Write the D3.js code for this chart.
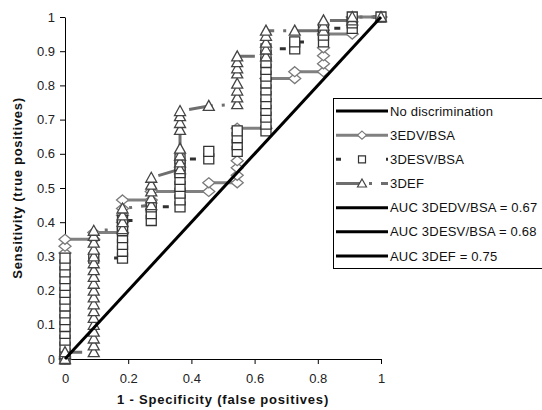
<!DOCTYPE html>
<meta charset="utf-8">
<style>
  body { margin: 0; background: #fff; }
  svg { display: block; font-family: Arial, "Liberation Sans", sans-serif; }
  .axis path, .axis line { stroke: #000; }
  .axis text { font-size: 13px; fill: #222; font-family: Arial, "Liberation Sans", sans-serif; }
  .title { font-size: 13px; font-weight: bold; fill: #111; }
  .legend text { font-size: 13px; fill: #111; letter-spacing: 0.2px; }
</style>
<body>
<script src="https://cdnjs.cloudflare.com/ajax/libs/d3/7.8.5/d3.min.js"></script>
<script>
// tick values / labels
var xTicks = [0, 0.2, 0.4, 0.6, 0.8, 1];
var xTickLabels = ["0", "0.2", "0.4", "0.6", "0.8", "1"];
var yTicks = [0, 0.1, 0.2, 0.3, 0.4, 0.5, 0.6, 0.7, 0.8, 0.9, 1];
var yTickLabels = ["0", "0.1", "0.2", "0.3", "0.4", "0.5", "0.6", "0.7", "0.8", "0.9", "1"];

// ROC points [1 - specificity, sensitivity]
var noDiscrimination = [[0, 0], [1, 1]];

var edvBsa = [[0,0],[0,0.31],[0,0.33],[0,0.35],[0.091,0.35],[0.091,0.37],[0.182,0.37],[0.182,0.40],
  [0.182,0.42],[0.182,0.44],[0.182,0.465],[0.273,0.465],[0.273,0.49],[0.455,0.49],[0.455,0.515],
  [0.545,0.515],[0.545,0.537],[0.545,0.559],[0.545,0.58],[0.545,0.675],[0.636,0.675],[0.636,0.82],
  [0.727,0.82],[0.727,0.84],[0.818,0.84],[0.818,0.863],[0.818,0.887],[0.818,0.91],[0.818,0.95],
  [0.909,0.95],[0.909,1],[1,1]];

var esvBsa = [[0,0],[0,0.015],[0,0.035],[0,0.055],[0,0.075],[0,0.095],[0,0.115],[0,0.135],[0,0.155],
  [0,0.175],[0,0.195],[0,0.215],[0,0.235],[0,0.255],[0,0.275],[0,0.295],[0.091,0.295],[0.182,0.295],
  [0.182,0.315],[0.182,0.335],[0.182,0.355],[0.182,0.375],[0.182,0.39],[0.182,0.405],[0.273,0.405],
  [0.273,0.425],[0.273,0.445],[0.364,0.445],[0.364,0.465],[0.364,0.485],[0.364,0.505],[0.364,0.525],
  [0.364,0.545],[0.364,0.565],[0.364,0.585],[0.455,0.585],[0.455,0.607],[0.545,0.607],[0.545,0.627],
  [0.545,0.647],[0.545,0.667],[0.636,0.667],[0.636,0.687],[0.636,0.707],[0.636,0.727],[0.636,0.747],
  [0.636,0.767],[0.636,0.787],[0.636,0.807],[0.636,0.827],[0.636,0.847],[0.636,0.867],[0.636,0.887],
  [0.636,0.907],[0.727,0.907],[0.727,0.927],[0.818,0.927],[0.818,0.947],[0.818,0.967],[0.909,0.967],
  [0.909,0.983],[0.909,1],[1,1]];

var def = [[0,0],[0,0.02],[0.091,0.02],[0.091,0.04],[0.091,0.06],[0.091,0.08],[0.091,0.10],[0.091,0.12],
  [0.091,0.14],[0.091,0.16],[0.091,0.18],[0.091,0.20],[0.091,0.22],[0.091,0.24],[0.091,0.26],[0.091,0.28],
  [0.091,0.30],[0.091,0.32],[0.091,0.34],[0.091,0.36],[0.091,0.375],[0.182,0.38],[0.182,0.40],[0.182,0.42],
  [0.182,0.44],[0.273,0.45],[0.273,0.47],[0.273,0.49],[0.273,0.51],[0.273,0.53],[0.364,0.555],[0.364,0.575],
  [0.364,0.595],[0.364,0.615],[0.364,0.67],[0.364,0.69],[0.364,0.71],[0.364,0.725],[0.455,0.74],
  [0.545,0.745],[0.545,0.765],[0.545,0.785],[0.545,0.805],[0.545,0.835],[0.545,0.85],[0.545,0.868],
  [0.545,0.885],[0.636,0.885],[0.636,0.905],[0.636,0.925],[0.636,0.945],[0.636,0.96],[0.727,0.96],
  [0.818,0.96],[0.818,0.975],[0.818,0.99],[0.909,0.99],[0.909,1],[1,1]];

var legendLabels = ["No discrimination", "3EDV/BSA", "3DESV/BSA", "3DEF",
  "AUC 3DEDV/BSA = 0.67", "AUC 3DESV/BSA = 0.68", "AUC 3DEF = 0.75"];

var width = 542, height = 410;

var svg = d3.select("body").append("svg")
    .attr("width", width)
    .attr("height", height);

var x = d3.scaleLinear().domain([0, 1]).range([65, 381]);
var y = d3.scaleLinear().domain([0, 1]).range([359, 17]);

// marker shapes
var shapes = {
  diamond: "M0,-5L6,0L0,5L-6,0Z",
  square: "M-5,-5H5V5H-5Z",
  triangle: "M0,-5.5L5.5,4.5H-5.5Z"
};
var smallShapes = {
  diamond: "M0,-4L4.5,0L0,4L-4.5,0Z",
  square: "M-3.5,-3.5H3.5V3.5H-3.5Z",
  triangle: "M0,-4.5L4.5,3.5H-4.5Z"
};

var series = [
  { data: edvBsa, shape: "diamond", line: "#808080", dash: null, mark: "#7a7a7a" },
  { data: esvBsa, shape: "square", line: "#303030", dash: "6,19", mark: "#333" },
  { data: def, shape: "triangle", line: "#6e6e6e", dash: "24,9,3,9", mark: "#444" }
];

// axes
svg.append("g")
    .attr("class", "axis")
    .attr("transform", "translate(0," + y(0) + ")")
    .call(d3.axisBottom(x).tickValues(xTicks).tickSize(5).tickSizeOuter(0).tickPadding(10)
      .tickFormat(function(d, i) { return xTickLabels[i]; }));

svg.append("g")
    .attr("class", "axis")
    .attr("transform", "translate(" + x(0) + ",0)")
    .call(d3.axisLeft(y).tickValues(yTicks).tickSize(5).tickSizeOuter(0).tickPadding(5)
      .tickFormat(function(d, i) { return yTickLabels[i]; }));

var line = d3.line().x(function(d) { return x(d[0]); }).y(function(d) { return y(d[1]); });

// series lines
series.forEach(function(s) {
  svg.append("path")
      .datum(s.data)
      .attr("d", line)
      .attr("fill", "none")
      .attr("stroke", s.line)
      .attr("stroke-width", 3)
      .attr("stroke-dasharray", s.dash);
});

// markers
series.forEach(function(s) {
  svg.append("g").selectAll("path")
      .data(s.data)
      .enter().append("path")
      .attr("transform", function(d) { return "translate(" + x(d[0]) + "," + y(d[1]) + ")"; })
      .attr("d", shapes[s.shape])
      .attr("fill", "#fff")
      .attr("stroke", s.mark)
      .attr("stroke-width", 1.3);
});

// diagonal
svg.append("path")
    .datum(noDiscrimination)
    .attr("d", line)
    .attr("fill", "none")
    .attr("stroke", "#000")
    .attr("stroke-width", 3);

// axis titles
svg.append("text")
    .attr("class", "title")
    .attr("x", 223)
    .attr("y", 404)
    .attr("text-anchor", "middle")
    .style("letter-spacing", "0.8px")
    .text("1 - Specificity (false positives)");

svg.append("text")
    .attr("class", "title")
    .attr("transform", "translate(22,188) rotate(-90)")
    .attr("text-anchor", "middle")
    .style("letter-spacing", "0.7px")
    .text("Sensitivity (true positives)");

// legend
var legend = svg.append("g").attr("class", "legend");
legend.append("rect")
    .attr("x", 333.5).attr("y", 98.5)
    .attr("width", 220).attr("height", 170)
    .attr("fill", "#fff").attr("stroke", "#000");

var rowY = d3.scalePoint().domain(d3.range(legendLabels.length)).range([111, 256]);
var legendStyle = [
  { line: "#000", dash: null, shape: null },
  { line: series[0].line, dash: null, shape: "diamond", mark: series[0].mark },
  { line: series[1].line, dash: "5,20", shape: "square", mark: series[1].mark },
  { line: series[2].line, dash: "24,9,3,9", shape: "triangle", mark: series[2].mark },
  { line: "#000", dash: null, shape: null },
  { line: "#000", dash: null, shape: null },
  { line: "#000", dash: null, shape: null }
];

legendLabels.forEach(function(label, i) {
  var ly = rowY(i), st = legendStyle[i];
  legend.append("line")
      .attr("x1", 336).attr("x2", 388)
      .attr("y1", ly).attr("y2", ly)
      .attr("stroke", st.line).attr("stroke-width", 3)
      .attr("stroke-dasharray", st.dash);
  if (st.shape) {
    legend.append("path")
        .attr("transform", "translate(362," + ly + ")")
        .attr("d", smallShapes[st.shape])
        .attr("fill", "#fff").attr("stroke", st.mark).attr("stroke-width", 1.2);
  }
  legend.append("text")
      .attr("x", 390).attr("y", ly)
      .attr("dy", "0.35em")
      .text(label);
});
</script>
</body>
